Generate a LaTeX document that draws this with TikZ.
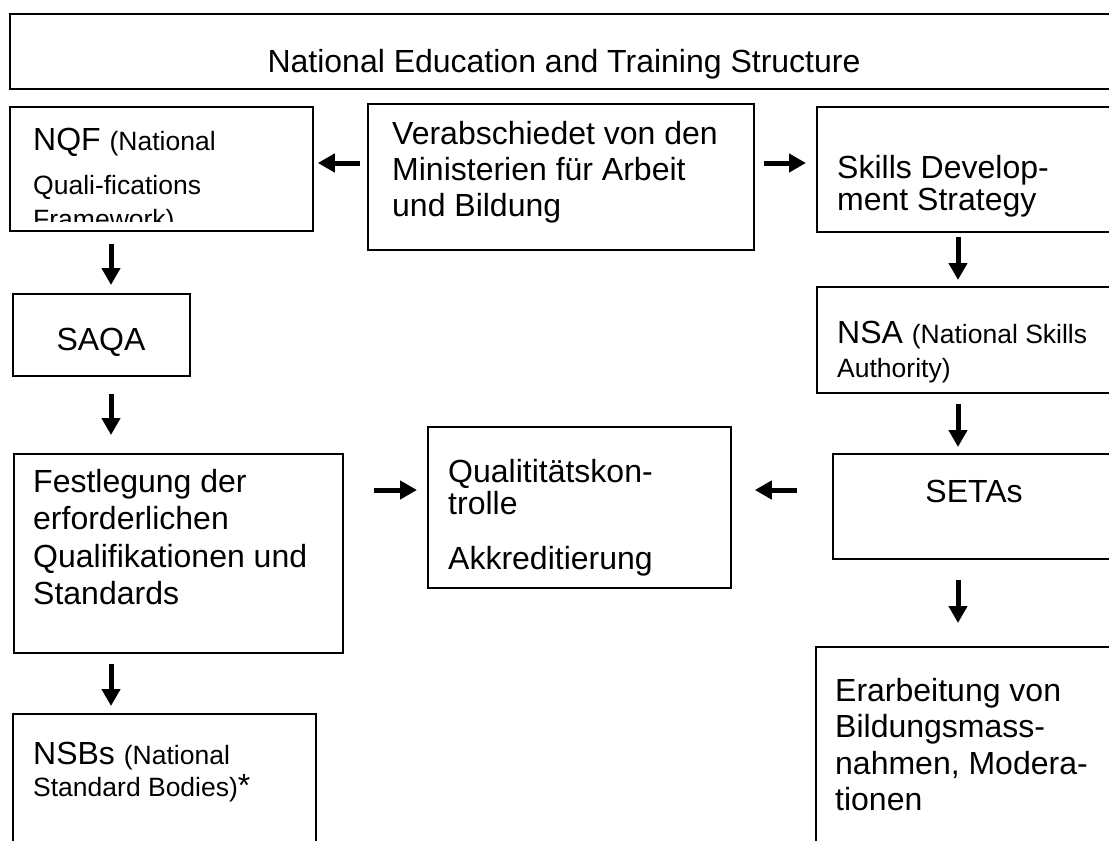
\documentclass[tikz,border=0pt]{standalone}
\usepackage{fontspec}
\setmainfont{Liberation Sans}
\usetikzlibrary{arrows.meta}
\newcommand\bigf{\fontsize{32}{36}\selectfont}
\newcommand\smf{\fontsize{26.5}{31}\selectfont}
\newcommand\lns[1]{\begin{tabular}[t]{@{}l@{}}#1\end{tabular}}
\tikzset{
  box/.style={draw=black, line width=1.8pt, inner sep=0pt, anchor=north west},
  txt/.style={inner sep=0pt, anchor=base west},
  ctxt/.style={inner sep=0pt, anchor=base},
  arr/.style={line width=5pt, -{Triangle[length=17pt,width=18pt]}},
}
\begin{document}
\begin{tikzpicture}[x=1pt,y=-1pt]
\useasboundingbox (0,0) rectangle (1109,841);
\clip (0,0) rectangle (1109,841);
% boxes
\node[box, minimum width=1107pt, minimum height=75pt]  (title)  at (9,13) {};
\node[box, minimum width=303pt,  minimum height=124pt] (nqf)    at (9,106) {};
\node[box, minimum width=386pt,  minimum height=146pt] (verab)  at (367,103) {};
\node[box, minimum width=300pt,  minimum height=125pt] (skills) at (816,106) {};
\node[box, minimum width=177pt,  minimum height=82pt]  (saqa)   at (12,293) {};
\node[box, minimum width=300pt,  minimum height=106pt] (nsa)    at (816,286) {};
\node[box, minimum width=329pt,  minimum height=199pt] (fest)   at (13,453) {};
\node[box, minimum width=303pt,  minimum height=161pt] (quali)  at (427,426) {};
\node[box, minimum width=284pt,  minimum height=105pt] (setas)  at (832,453) {};
\node[box, minimum width=303pt,  minimum height=147pt] (nsbs)   at (12,713) {};
\node[box, minimum width=301pt,  minimum height=214pt] (erarb)  at (815,646) {};
% texts
\node[ctxt, font=\bigf] (titlet) at (564,72) {National Education and Training Structure};
\begin{scope}
  \clip (9,106) rectangle (312,221);
  \node[txt] (nqft) at (33,150) {\fontsize{32}{34}\selectfont\lns{NQF {\smf(National}\\[10pt]
    {\smf Quali-fications}\\ {\smf Framework)}}};
\end{scope}
\node[txt, font=\bigf] (verabt) at (392,144) {\lns{Verabschiedet von den\\Ministerien für Arbeit\\und Bildung}};
\node[txt, font=\fontsize{32}{32}\selectfont] (skillst) at (837,178) {\lns{Skills Develop-\\ment Strategy}};
\node[ctxt, font=\bigf] (saqat) at (101,350) {SAQA};
\node[txt, font=\fontsize{32}{34}\selectfont] (nsat) at (837,343) {\lns{NSA {\smf(National Skills}\\{\smf Authority)}}};
\node[txt, font=\fontsize{32}{37.5}\selectfont] (festt) at (33,492) {\lns{Festlegung der\\erforderlichen\\Qualifikationen und\\Standards}};
\node[txt, font=\fontsize{32}{32}\selectfont] (qualit) at (448,482) {\lns{Qualititätskon-\\trolle\\[22pt]Akkreditierung}};
\node[ctxt, font=\bigf] (setast) at (974,502) {SETAs};
\node[txt, font=\fontsize{32}{32}\selectfont] (nsbst) at (33,764) {\lns{NSBs {\smf(National}\\{\smf Standard Bodies)}*}};
\node[txt, font=\fontsize{32}{36.5}\selectfont] (erarbt) at (835,701) {\lns{Erarbeitung von\\Bildungsmass-\\nahmen, Modera-\\tionen}};
% helper coordinates
\coordinate (r1) at (0,163);
\coordinate (r2) at (0,490);
\coordinate (cL) at (111,0);
\coordinate (cR) at (958,0);
% arrows
\draw[arr, shorten <=7pt,  shorten >=4pt]  (verab.west |- r1) -- (nqf.east |- r1);
\draw[arr, shorten <=9pt,  shorten >=10pt] (verab.east |- r1) -- (skills.west |- r1);
\draw[arr, shorten <=12pt, shorten >=8pt]  (nqf.south -| cL) -- (saqa.north -| cL);
\draw[arr, shorten <=17pt, shorten >=18pt] (saqa.south -| cL) -- (fest.north -| cL);
\draw[arr, shorten <=10pt, shorten >=7pt]  (fest.south -| cL) -- (nsbs.north -| cL);
\draw[arr, shorten <=4pt,  shorten >=6pt]  (skills.south -| cR) -- (nsa.north -| cR);
\draw[arr, shorten <=10pt, shorten >=6pt]  (nsa.south -| cR) -- (setas.north -| cR);
\draw[arr, shorten <=20pt, shorten >=23pt] (setas.south -| cR) -- (erarb.north -| cR);
\draw[arr, shorten <=30pt, shorten >=10pt] (fest.east |- r2) -- (quali.west |- r2);
\draw[arr, shorten <=35pt, shorten >=23pt] (setas.west |- r2) -- (quali.east |- r2);
\end{tikzpicture}
\end{document}
